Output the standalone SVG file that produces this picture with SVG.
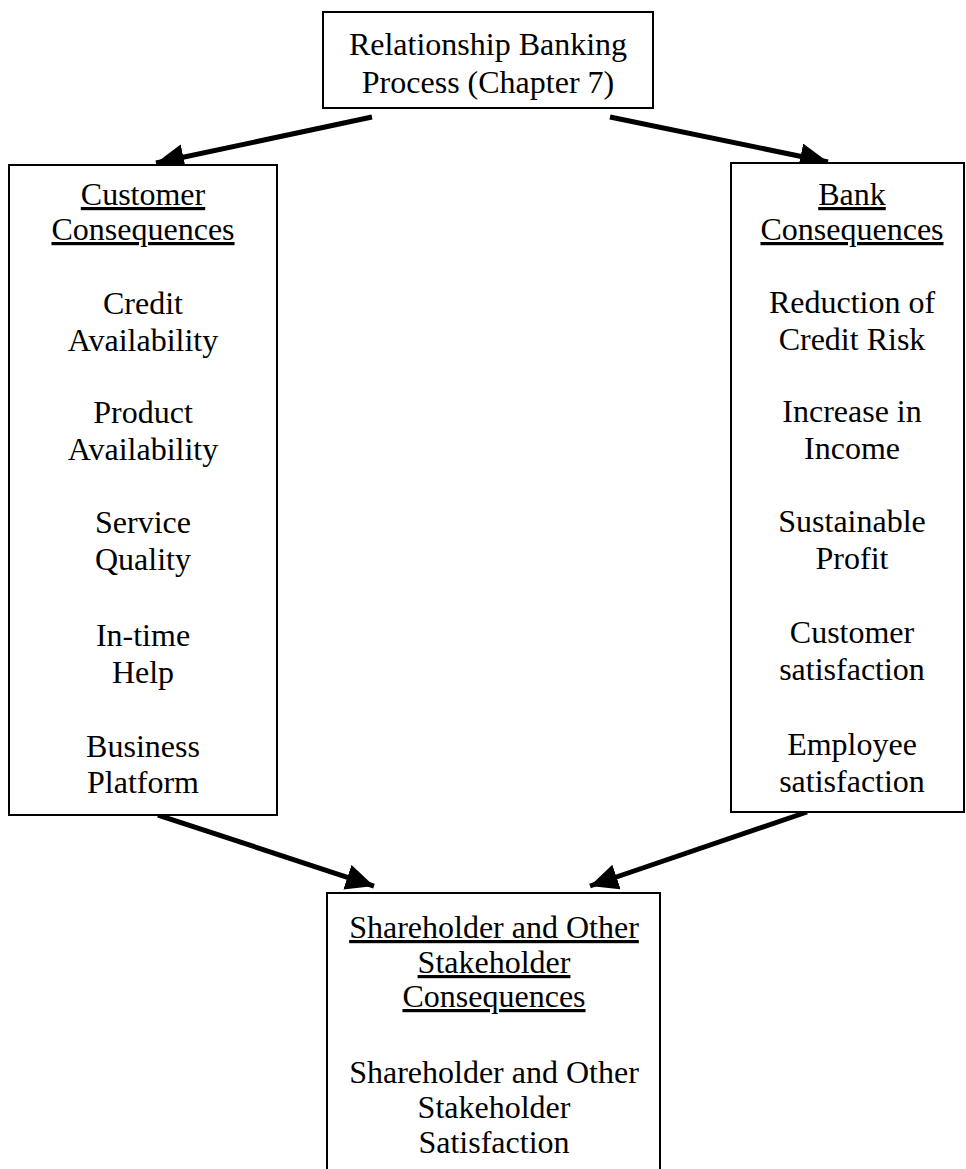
<svg xmlns="http://www.w3.org/2000/svg" width="966" height="1169" viewBox="0 0 966 1169">
  <style>
    .box { fill: #fff; stroke: #000; stroke-width: 2; }
    text { font-family: "Liberation Serif", "Times New Roman", serif; font-size: 32px; fill: #000; text-anchor: middle; }
    .head { text-decoration: underline; }
    .conn { stroke: #000; stroke-width: 5; fill: none; marker-end: url(#arrow); }
  </style>
  <defs>
    <marker id="arrow" markerUnits="userSpaceOnUse" markerWidth="30" markerHeight="28" refX="28" refY="13" orient="auto">
      <path d="M0,0 L28,13 L0,26 Z" fill="#000"/>
    </marker>
  </defs>
  <rect width="966" height="1169" fill="#fff"/>

  <g id="connectors">
    <line class="conn" x1="372" y1="117" x2="156" y2="163"/>
    <line class="conn" x1="610" y1="117" x2="828" y2="162"/>
    <line class="conn" x1="158" y1="815" x2="374" y2="886"/>
    <line class="conn" x1="807" y1="812" x2="590" y2="886"/>
  </g>

  <g id="process">
    <rect class="box" x="323" y="12" width="330" height="96"/>
    <text x="488" y="55">Relationship Banking</text>
    <text x="488" y="93">Process (Chapter 7)</text>
  </g>

  <g id="customer">
    <rect class="box" x="9" y="165" width="268" height="650"/>
    <text class="head" x="143" y="205">Customer</text>
    <text class="head" x="143" y="240">Consequences</text>
    <text x="143" y="314">Credit</text>
    <text x="143" y="351">Availability</text>
    <text x="143" y="423">Product</text>
    <text x="143" y="460">Availability</text>
    <text x="143" y="533">Service</text>
    <text x="143" y="570">Quality</text>
    <text x="143" y="646">In-time</text>
    <text x="143" y="683">Help</text>
    <text x="143" y="757">Business</text>
    <text x="143" y="793">Platform</text>
  </g>

  <g id="bank">
    <rect class="box" x="731" y="163" width="233" height="649"/>
    <text class="head" x="852" y="205">Bank</text>
    <text class="head" x="852" y="240">Consequences</text>
    <text x="852" y="313">Reduction of</text>
    <text x="852" y="350">Credit Risk</text>
    <text x="852" y="422">Increase in</text>
    <text x="852" y="459">Income</text>
    <text x="852" y="532">Sustainable</text>
    <text x="852" y="569">Profit</text>
    <text x="852" y="643">Customer</text>
    <text x="852" y="680">satisfaction</text>
    <text x="852" y="755">Employee</text>
    <text x="852" y="792">satisfaction</text>
  </g>

  <g id="stakeholder">
    <rect class="box" x="327" y="893" width="333" height="300"/>
    <text class="head" x="494" y="938">Shareholder and Other</text>
    <text class="head" x="494" y="973">Stakeholder</text>
    <text class="head" x="494" y="1007">Consequences</text>
    <text x="494" y="1083">Shareholder and Other</text>
    <text x="494" y="1118">Stakeholder</text>
    <text x="494" y="1153">Satisfaction</text>
  </g>
</svg>
